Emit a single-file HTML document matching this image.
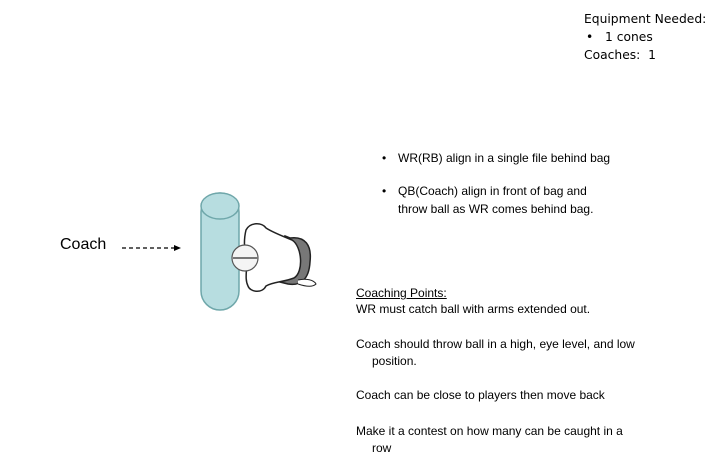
<!DOCTYPE html>
<html><head><style>
body{margin:0;width:727px;height:476px;background:#fff;position:relative;overflow:hidden;font-family:"Liberation Sans",sans-serif;color:#000}
.t{position:absolute;white-space:nowrap;font-size:12px}
.c{font-family:"DejaVu Sans","Liberation Sans",sans-serif;font-size:12.3px}
</style></head><body>
<div class="t c" style="left:584px;top:12px">Equipment Needed:</div>
<div class="t c" style="left:586px;top:30px">•&nbsp;&nbsp;&nbsp;1 cones</div>
<div class="t c" style="left:584px;top:48px">Coaches:&nbsp;&nbsp;1</div>

<div class="t" style="left:382px;top:151px">•</div>
<div class="t" style="left:398px;top:151px">WR(RB) align in a single file behind bag</div>
<div class="t" style="left:382px;top:184px">•</div>
<div class="t" style="left:398px;top:184px">QB(Coach) align in front of bag and</div>
<div class="t" style="left:398px;top:202px">throw ball as WR comes behind bag.</div>

<div class="t" style="left:356px;top:286px;text-decoration:underline">Coaching Points:</div>
<div class="t" style="left:356px;top:302px">WR must catch ball with arms extended out.</div>
<div class="t" style="left:356px;top:337px">Coach should throw ball in a high, eye level, and low</div>
<div class="t" style="left:372px;top:354px">position.</div>
<div class="t" style="left:356px;top:388px">Coach can be close to players then move back</div>
<div class="t" style="left:356px;top:424px">Make it a contest on how many can be caught in a</div>
<div class="t" style="left:372px;top:441px">row</div>

<div class="t" style="left:60px;top:236px;font-size:16px">Coach</div>
<svg width="727" height="476" style="position:absolute;left:0;top:0">
<line x1="122" y1="248" x2="175" y2="248" stroke="#000" stroke-width="1.3" stroke-dasharray="4,3"/>
<polygon points="174,245 181,248 174,251" fill="#000"/>
<rect x="201" y="193" width="38" height="117" rx="19" fill="#b7dde0" stroke="#6fa7aa" stroke-width="1.5"/>
<ellipse cx="220" cy="206" rx="19" ry="13" fill="#b7dde0" stroke="#6fa7aa" stroke-width="1.5"/>
<path d="M290,238 C305,236 312,245 310,262 C309,280 300,286 288,284 L280,282 L285,236 Z" fill="#777" stroke="#222" stroke-width="1.5"/>
<path d="M246,230 C250,222 262,222 266,228 C272,232 282,236 292,240 C302,246 304,272 294,278 C284,282 272,282 266,286 C262,294 250,292 248,286 C244,278 248,268 246,258 C244,248 244,238 246,230 Z" fill="#fff" stroke="#222" stroke-width="1.5"/>
<circle cx="245" cy="258" r="13" fill="#f4f4f4" stroke="#555" stroke-width="1.2"/>
<line x1="233" y1="258" x2="258" y2="258" stroke="#777" stroke-width="2"/>
<path d="M298,280 C306,278 314,280 316,284 C312,288 304,286 298,284" fill="#fff" stroke="#222"/>
</svg>
</body></html>
